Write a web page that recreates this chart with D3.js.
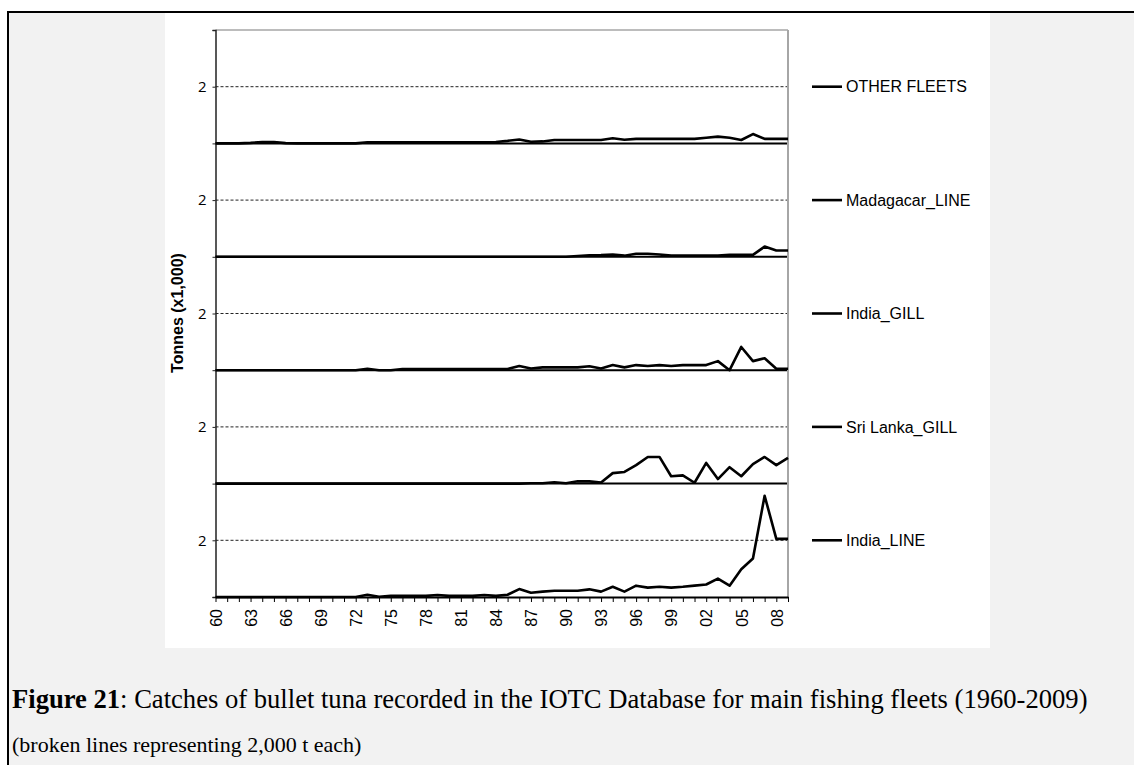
<!DOCTYPE html>
<html>
<head>
<meta charset="utf-8">
<script src="https://cdn.jsdelivr.net/npm/d3@7"></script>
<style>
  body { margin: 0; background: #fff; }
  svg text { fill: #000; }
</style>
</head>
<body>
<svg id="chart" width="1134" height="765"></svg>
<script>
// years on the category axis, 1960-2009
var years = d3.range(1960, 2010);

// fleets, bottom band first
var fleets = ["India_LINE", "Sri Lanka_GILL", "India_GILL", "Madagacar_LINE", "OTHER FLEETS"];

// catches in thousand tonnes
var indiaLine = [0,0,0,0,0,0,0,0,0,0,0,0,0,
  0.08,0.01,0.04,0.04,0.04,0.04,0.07,0.04,0.04,0.04,0.07,0.04,0.08,0.28,0.15,0.19,0.22,
  0.22,0.22,0.27,0.19,0.36,0.19,0.40,0.33,0.36,0.33,0.36,0.40,0.44,0.65,0.40,0.98,1.36,3.57,2.05,2.05];
var sriLankaGill = [0,0,0,0,0,0,0,0,0,0,0,0,0,0,0,0,0,0,0,0,0,0,0,0,0,0,0,
  0.01,0.01,0.05,0.01,0.08,0.08,0.04,0.37,0.41,0.65,0.94,0.94,0.26,0.29,0.03,0.73,0.16,0.58,0.26,0.69,0.94,0.65,0.91];
var indiaGill = [0,0,0,0,0,0,0,0,0,0,0,0,0,
  0.05,0,0,0.04,0.04,0.04,0.04,0.04,0.04,0.04,0.04,0.04,0.04,
  0.15,0.06,0.10,0.10,0.10,0.10,0.14,0.06,0.18,0.10,0.18,0.15,0.18,0.15,0.18,0.18,0.18,0.32,0,0.82,0.32,0.42,0.05,0.05];
var madagascarLine = [0,0,0,0,0,0,0,0,0,0,0,0,0,0,0,0,0,0,0,0,0,0,0,0,0,0,0,0,0,0,0,
  0.03,0.05,0.06,0.08,0.04,0.11,0.11,0.08,0.04,0.04,0.04,0.04,0.04,0.07,0.07,0.07,0.36,0.22,0.22];
var otherFleets = [0,0,0,0.02,0.05,0.05,0.01,0,0,0,0,0,0,
  0.04,0.04,0.04,0.04,0.04,0.04,0.04,0.04,0.04,0.04,0.04,
  0.05,0.09,0.14,0.06,0.07,0.12,0.12,0.12,0.12,0.12,0.18,0.13,0.16,0.16,0.16,0.16,0.16,0.16,0.20,0.24,0.20,0.12,0.33,0.16,0.16,0.16];

var seriesValues = [indiaLine, sriLankaGill, indiaGill, madagascarLine, otherFleets];

// each band is 4,000 t high, broken line at 2,000 t
var bandHeight = 4;
var dashedTicks = [2, 6, 10, 14, 18];
var baseTicks = [4, 8, 12, 16];
var yTicks = [0, 2, 4, 6, 8, 10, 12, 14, 16, 18, 20];
var labelEvery = 3;

var svg = d3.select("#chart");

// page frame
svg.append("rect").attr("width", 1134).attr("height", 765).attr("fill", "#fff");
svg.append("rect")
  .attr("x", 8).attr("y", 12).attr("width", 1140).attr("height", 770)
  .attr("fill", "#f2f2f2").attr("stroke", "#000").attr("stroke-width", 2);
svg.append("rect")
  .attr("x", 165).attr("y", 13).attr("width", 825).attr("height", 635)
  .attr("fill", "#fff");

var x = d3.scaleLinear().domain([1960, 2009]).range([215.5, 788]);
var y = d3.scaleLinear().domain([0, 20]).range([597, 30]);

var plot = svg.append("g");

// broken lines
plot.selectAll("line.dash")
  .data(dashedTicks)
  .enter().append("line")
  .attr("class", "dash")
  .attr("x1", x(1960)).attr("x2", x(2009))
  .attr("y1", function(d){ return y(d); })
  .attr("y2", function(d){ return y(d); })
  .attr("stroke", "#222").attr("stroke-width", 1)
  .attr("stroke-dasharray", "3,2");

// band base lines
plot.selectAll("line.base")
  .data(baseTicks)
  .enter().append("line")
  .attr("class", "base")
  .attr("x1", x(1960)).attr("x2", x(2009))
  .attr("y1", function(d){ return y(d); })
  .attr("y2", function(d){ return y(d); })
  .attr("stroke", "#000").attr("stroke-width", 2);

// plot area border top and right
plot.append("line")
  .attr("x1", x(1960)).attr("x2", x(2009)).attr("y1", y(20)).attr("y2", y(20))
  .attr("stroke", "#a6a6a6").attr("stroke-width", 1.5);
plot.append("line")
  .attr("x1", x(2009)).attr("x2", x(2009)).attr("y1", y(20)).attr("y2", y(0))
  .attr("stroke", "#a6a6a6").attr("stroke-width", 2);

// y axis
var yAxis = d3.axisLeft(y)
  .tickValues(yTicks)
  .tickSize(3)
  .tickPadding(6)
  .tickFormat(function(d){ return d % bandHeight === 2 ? "2" : ""; });
var gy = plot.append("g").attr("transform", "translate(" + x(1960) + ",0)").call(yAxis);
gy.select(".domain").attr("stroke", "#222").attr("stroke-width", 1.5);
gy.selectAll(".tick line").attr("stroke", "#222");
gy.selectAll(".tick text")
  .attr("font-family", "'Open Sans', sans-serif").attr("font-size", 15);

// x axis
var xAxis = d3.axisBottom(x)
  .tickValues(years)
  .tickSize(5)
  .tickSizeOuter(0)
  .tickFormat(function(d, i){
    return i % labelEvery === 0 ? String(d).slice(2) : "";
  });
var gx = plot.append("g").attr("transform", "translate(0," + y(0) + ")").call(xAxis);
gx.select(".domain").attr("stroke", "#000").attr("stroke-width", 2);
gx.selectAll(".tick line").attr("stroke", "#000");
gx.selectAll(".tick text")
  .attr("font-family", "Arial, 'Liberation Sans', sans-serif").attr("font-size", 16)
  .attr("text-anchor", "end")
  .attr("transform", "translate(0,12) rotate(-90)")
  .attr("x", 0).attr("y", 0).attr("dy", "0.36em");

// y axis title
svg.append("text")
  .attr("transform", "translate(183,313) rotate(-90)")
  .attr("text-anchor", "middle")
  .attr("font-family", "Arial, 'Liberation Sans', sans-serif")
  .attr("font-weight", "bold").attr("font-size", 16)
  .text("Tonnes (x1,000)");

// series
var line = d3.line()
  .x(function(d){ return x(d[0]); })
  .y(function(d){ return y(d[1]); });

plot.selectAll("path.fleet")
  .data(seriesValues)
  .enter().append("path")
  .attr("class", "fleet")
  .attr("fill", "none").attr("stroke", "#000").attr("stroke-width", 2.6)
  .attr("stroke-linejoin", "round")
  .attr("d", function(vals, k){
    return line(vals.map(function(v, i){ return [years[i], v + k * bandHeight]; }));
  });

// legend
var legend = svg.selectAll("g.legend")
  .data(fleets)
  .enter().append("g")
  .attr("class", "legend")
  .attr("transform", function(d, k){ return "translate(812," + y(k * bandHeight + 2) + ")"; });
legend.append("line")
  .attr("x1", 0).attr("x2", 30)
  .attr("stroke", "#000").attr("stroke-width", 2.6);
legend.append("text")
  .attr("x", 34).attr("dy", "0.36em")
  .attr("font-family", "Arial, 'Liberation Sans', sans-serif").attr("font-size", 16)
  .text(function(d){ return d; });

// caption
var cap = svg.append("text")
  .attr("x", 12).attr("y", 708)
  .attr("font-family", "'Times New Roman', 'Liberation Serif', serif")
  .attr("font-size", 26.6);
cap.append("tspan").attr("font-weight", "bold").text("Figure 21");
cap.append("tspan").text(": Catches of bullet tuna recorded in the IOTC Database for main fishing fleets (1960-2009)");

svg.append("text")
  .attr("x", 12).attr("y", 752)
  .attr("font-family", "'Times New Roman', 'Liberation Serif', serif")
  .attr("font-size", 22)
  .text("(broken lines representing 2,000 t each)");
</script>
</body>
</html>
